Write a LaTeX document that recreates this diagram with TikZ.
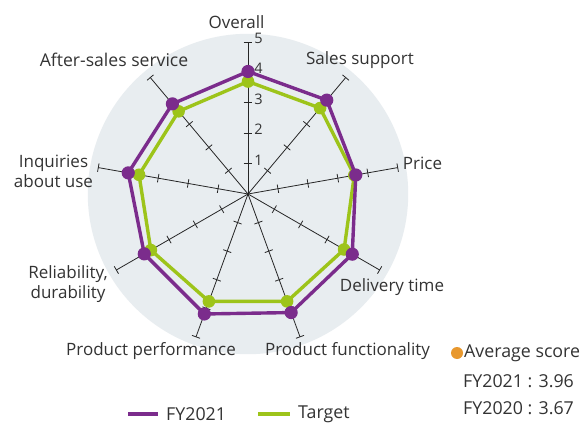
\documentclass[tikz,border=0pt]{standalone}
\usepackage{fontspec}
\setmainfont{Open Sans}
\usetikzlibrary{calc}
\definecolor{fypurple}{HTML}{7B2C8C}
\definecolor{tgreen}{HTML}{9DC41A}
\definecolor{avgorange}{HTML}{E8982E}
\definecolor{bgcircle}{HTML}{E8EDF0}
\definecolor{txt}{HTML}{333333}
\begin{document}
\begin{tikzpicture}[x=1pt,y=1pt,
  lbl/.style={font=\fontsize{17}{20}\selectfont, text=txt, inner sep=0pt, align=center},
  leglbl/.style={font=\fontsize{17.8}{20}\selectfont, text=txt, inner sep=0pt, anchor=west},
  numlbl/.style={font=\fontsize{14.5}{16}\selectfont, text=txt, inner sep=0pt, anchor=west},
  axisline/.style={draw=black!85, line width=0.8pt},
  purpleline/.style={draw=fypurple, line width=3.4pt, line join=round},
  greenline/.style={draw=tgreen, line width=3.4pt, line join=round},
  purpledot/.style={fill=fypurple},
  greendot/.style={fill=tgreen}]
\useasboundingbox (0,0) rectangle (585,428);
\fill[white] (0,0) rectangle (585,428);
\begin{scope}[shift={(248,234)}, x=30.4pt, y=30.4pt]
  \fill[bgcircle] (0,0) circle (5.27);
  \coordinate (O) at (0,0);
  \foreach \a [count=\i] in {90,50,10,-30,-70,-110,-150,170,130} {
    \coordinate (E\i) at (\a:5);
    \draw[axisline] (O) -- (E\i);
    \foreach \r in {1,...,5}
      \draw[axisline] ($(\a:\r)+(\a+90:0.14)$) -- ($(\a:\r)+(\a-90:0.14)$);
  }
  \foreach \k in {1,...,5}
    \node[numlbl] (n\k) at (0.2,\k+0.12) {\k};
  % data
  \foreach \a/\v [count=\i] in {90/3.70,50/3.69,10/3.55,-30/3.65,-70/3.76,-110/3.76,-150/3.69,170/3.64,130/3.55}
    \coordinate (G\i) at (\a:\v);
  \foreach \a/\v [count=\i] in {90/4.03,50/4.03,10/3.60,-30/3.96,-70/4.15,-110/4.20,-150/3.94,170/4.00,130/3.87}
    \coordinate (P\i) at (\a:\v);
  \draw[greenline] (G1) -- (G2) -- (G3) -- (G4) -- (G5) -- (G6) -- (G7) -- (G8) -- (G9) -- cycle;
  \foreach \i in {1,...,9} \fill[greendot] (G\i) circle (6.3pt);
  \draw[purpleline] (P1) -- (P2) -- (P3) -- (P4) -- (P5) -- (P6) -- (P7) -- (P8) -- (P9) -- cycle;
  \foreach \i in {1,...,9} \fill[purpledot] (P\i) circle (6.6pt);
\end{scope}
% axis labels
\node[lbl] (l1) at (236.5,406) {Overall};
\node[lbl] (l2) at (360,368) {Sales support};
\node[lbl] (l3) at (422.5,265) {Price};
\node[lbl] (l4) at (392,141) {Delivery time};
\node[lbl] (l5) at (347.5,77) {Product functionality};
\node[lbl] (l6) at (151,77) {Product performance};
\node[lbl] (l7) at (68,143.5) {Reliability,\\durability};
\node[lbl] (l8) at (53.5,257) {Inquiries\\about use};
\node[lbl, font=\fontsize{17.6}{20}\selectfont] (l9) at (114,368) {After-sales service};
% legend
\coordinate (lp1) at (128,14);
\coordinate (lp2) at (158,14);
\draw[draw=fypurple, line width=3.4pt] (lp1) -- (lp2);
\node[leglbl] (lgp) at (166,14) {FY2021};
\coordinate (lg1) at (258,14);
\coordinate (lg2) at (290,14);
\draw[draw=tgreen, line width=3.4pt] (lg1) -- (lg2);
\node[leglbl] (lgg) at (298,14) {Target};
% average
\fill[avgorange] (457,75) circle (6pt);
\node[leglbl] (av) at (464,75) {Average score};
\node[leglbl] (av1) at (463,47) {FY2021 : 3.96};
\node[leglbl] (av2) at (463,20) {FY2020 : 3.67};
\end{tikzpicture}
\end{document}
